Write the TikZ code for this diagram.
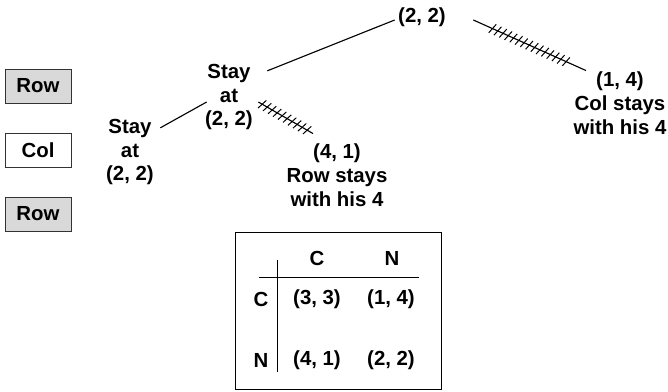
\documentclass[tikz,border=0pt]{standalone}
\usepackage{fontspec}
\setmainfont{Liberation Sans}
\usetikzlibrary{decorations.markings}

\begin{document}
\begin{tikzpicture}[x=0.025cm, y=-0.025cm, line width=0.8pt,
    txt/.style={inner sep=0pt, align=center, font=\fontsize{14.5}{17}\selectfont\bfseries},
    player/.style={draw=black!80, line width=0.6pt, minimum width=66*0.025cm, minimum height=34*0.025cm, inner sep=0pt, font=\fontsize{14.5}{17}\selectfont\bfseries},
    ticked/.style 2 args={postaction={decorate, decoration={markings,
        mark=between positions #1 and #2 step 4.1pt with {\draw[line width=0.7pt] (-1.2pt,-3.8pt) -- (1.2pt,3.8pt);}}}}]

                \useasboundingbox (0, 0) rectangle (668, 391);

                % turn order
                \node[player, fill=black!15] at (38, 86) (row1) {Row};
                \node[player] at (38, 150) (col) {Col};
                \node[player, fill=black!15] at (38, 214) (row2) {Row};

                % tree
                \node[txt] at (422, 17) (top) {(2, 2)};
                \node[txt] at (229, 97) (mid) {Stay\\at\\(2, 2)};
                \node[txt] at (130, 152) (left) {Stay\\at\\(2, 2)};
                \node[txt] at (337, 175) (fourone) {(4, 1)\\Row stays\\with his 4};
                \node[txt] at (620, 103) (onefour) {(1, 4)\\Col stays\\with his 4};

                \draw ([shift={(-3, 3)}]top.west) -- ([shift={(14, 7.5)}]mid.north east);
                \draw ([shift={(2, 5)}]mid.west) -- ([shift={(6, 9.5)}]left.north east);
                \draw[ticked={0.07}{0.92}] ([shift={(5, 5)}]mid.east) -- ([shift={(-24, -9.5)}]fourone.north);
                \draw[ticked={0.17}{0.84}] ([shift={(27, 3)}]top.east) -- ([shift={(13, -0.5)}]onefour.north west);

                % payoff table
                \draw[line width=0.6pt] (235, 232) rectangle (441, 389);
                \node[txt] at (317, 258) (hc) {C};
                \node[txt] at (392, 258) (hn) {N};
                \node[txt] at (261, 299) (rc) {C};
                \node[txt] at (261, 360) (rn) {N};
                \node[txt] at (317, 299) (cc) {(3, 3)};
                \node[txt] at (391, 299) (cn) {(1, 4)};
                \node[txt] at (317, 360) (nc) {(4, 1)};
                \node[txt] at (391, 360) (nn) {(2, 2)};
                \draw[line width=0.6pt] (259, 277) -- (419, 277);
                \draw[line width=0.6pt] (277, 260) -- (277, 372);
            \end{tikzpicture}
\end{document}
